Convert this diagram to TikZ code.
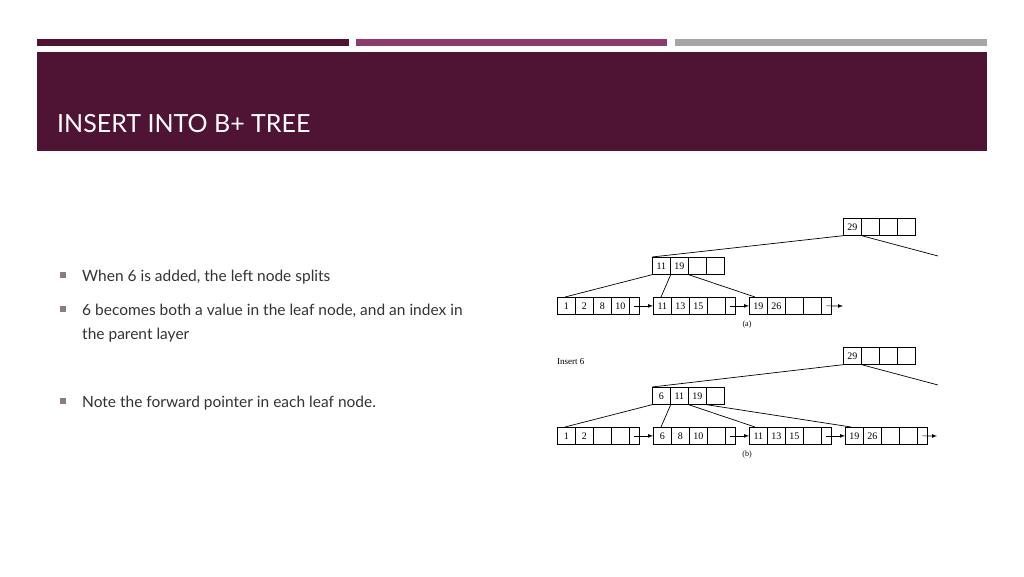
\documentclass[tikz,border=0pt]{standalone}
\usepackage{fontspec}
\setmainfont{Lato}
\newfontfamily\tms{Liberation Serif}
\begin{document}
\begin{tikzpicture}[x=1pt,y=-1pt,
  cell/.style={draw,line width=0.7pt,minimum width=18pt,minimum height=17pt,inner sep=0pt,anchor=north west,font=\tms\fontsize{10}{11}\selectfont},
  pcell/.style={cell,minimum width=10pt},
  link/.style={line width=0.7pt},
  bul/.style={fill=bulc,minimum size=6pt,inner sep=0pt},
  btxt/.style={anchor=base west,inner sep=0pt,font=\fontsize{15.5}{19}\selectfont,text=txt}]
\definecolor{maroon}{HTML}{4F1434}
\definecolor{mag}{HTML}{8E3A6B}
\definecolor{gbar}{HTML}{A6A6A6}
\definecolor{bulc}{HTML}{8C7A86}
\definecolor{txt}{HTML}{333333}
\useasboundingbox (0,0) rectangle (1024,576);
\fill[white] (0,0) rectangle (1024,576);
\fill[maroon] (37,39) rectangle (349,46);
\fill[mag] (356,39) rectangle (667,46);
\fill[gbar] (675,39) rectangle (987,46);
\fill[maroon] (37,52) rectangle (987,151);
\node[anchor=base west,inner sep=0pt,text=white,font=\fontsize{25}{28}\selectfont] (title) at (57,132) {INSERT INTO B+ TREE};
% bullets
\node[bul] (b1) at (63,275) {};
\node[btxt] (t1) at (82,281) {When 6 is added, the left node splits};
\node[bul] (b2) at (63,309) {};
\node[btxt] (t2) at (82,315) {6 becomes both a value in the leaf node, and an index in};
\node[btxt] (t2b) at (82,339) {the parent layer};
\node[bul] (b3) at (63,401) {};
\node[btxt] (t3) at (82,407) {Note the forward pointer in each leaf node.};
% macros
\newcommand\inode[4]{% name, x, y, labels(4)
  \foreach \l [count=\i from 0] in {#4} {\node[cell] (#1\i) at ({#2+18*\i},#3) {\l};}}
\newcommand\lnode[4]{% name, x, y, labels(4) + pointer cell
  \foreach \l [count=\i from 0] in {#4} {\node[cell] (#1\i) at ({#2+18*\i},#3) {\l};}
  \node[pcell] (#1p) at ({#2+72},#3) {};}
% ---- (a)
\inode{ra}{843}{218}{29,,,}
\coordinate (raR) at (938,256);
\inode{ia}{652}{257}{11,19,,}
\lnode{la}{557}{297}{1,2,8,10}
\lnode{lb}{653}{297}{11,13,15,}
\lnode{lc}{749}{297}{19,26,,}
\coordinate (lcE) at (843,306);
\draw[link] (ra0.south west) -- (ia0.north west);
\draw[link] (ra0.south east) -- (raR);
\draw[link] (ia0.south west) -- ([xshift=8pt]la0.north west);
\draw[link] (ia0.south east) -- ([xshift=8pt]lb0.north west);
\draw[link] (ia1.south east) -- ([xshift=6pt]lc0.north west);
\draw[link,-latex] (lap.center) -- (lb0.west);
\draw[link,-latex] (lbp.center) -- (lc0.west);
\draw[link,-latex] (lcp.center) -- (lcE);
\node[font=\tms\fontsize{8}{9}\selectfont] (capa) at (747,325) {(a)};
% ---- (b)
\node[anchor=west,inner sep=0pt,font=\tms\fontsize{9}{10}\selectfont] (ins) at (557,362) {Insert 6};
\inode{rb}{843}{347}{29,,,}
\coordinate (rbR) at (938,385);
\inode{ib}{652}{387}{6,11,19,}
\lnode{ma}{557}{427}{1,2,,}
\lnode{mb}{653}{427}{6,8,10,}
\lnode{mc}{749}{427}{11,13,15,}
\lnode{md}{845}{427}{19,26,,}
\coordinate (mdE) at (937,436);
\draw[link] (rb0.south west) -- (ib0.north west);
\draw[link] (rb0.south east) -- (rbR);
\draw[link] (ib0.south west) -- ([xshift=8pt]ma0.north west);
\draw[link] (ib0.south east) -- ([xshift=8pt]mb0.north west);
\draw[link] (ib1.south east) -- ([xshift=6pt]mc0.north west);
\draw[link] (ib2.south east) -- ([xshift=6pt]md0.north west);
\draw[link,-latex] (map.center) -- (mb0.west);
\draw[link,-latex] (mbp.center) -- (mc0.west);
\draw[link,-latex] (mcp.center) -- (md0.west);
\draw[link,-latex] (mdp.center) -- (mdE);
\node[font=\tms\fontsize{8}{9}\selectfont] (capb) at (747,455) {(b)};
\end{tikzpicture}
\end{document}
